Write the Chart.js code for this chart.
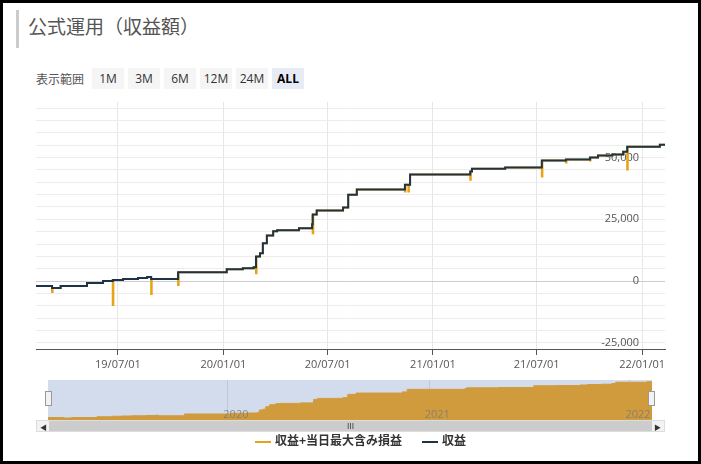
<!DOCTYPE html>
<html><head><meta charset="utf-8">
<script src="https://cdn.jsdelivr.net/npm/chart.js@4/dist/chart.umd.min.js"></script>
<style>
body{margin:0;width:701px;height:464px;overflow:hidden;background:#fff;font-family:"Noto Sans CJK JP","Noto Sans",sans-serif}
#frame{position:absolute;left:0;top:0;width:695px;height:458px;border:3px solid #000;}
#bar{position:absolute;left:16px;top:10px;width:3px;height:38px;background:#ccc}
#title{position:absolute;left:28px;top:12px;font-size:19px;color:#555}
#range{position:absolute;left:36px;top:68px;font-size:12px;color:#555;display:flex;align-items:center}
#range span.b{background:#f5f5f5;margin-left:4px;width:32px;height:21px;line-height:21px;text-align:center;display:inline-block;color:#333;font-family:"Open Sans",sans-serif}
#range span.sel{background:#e6ebf5;font-weight:bold;color:#000}
.box{position:absolute}
#scroll{position:absolute;left:36px;top:420px;width:629px;height:12px;background:#f2f2f2;border:1px solid #ddd;box-sizing:border-box}
#thumb{position:absolute;left:12px;right:12px;top:0;bottom:0;background:#ccc;font-size:8px;text-align:center;line-height:10px;color:#333}
.arr{position:absolute;top:1px;font-size:7px;color:#333}
.hdl{position:absolute;top:391px;width:7px;height:15px;background:#f2f2f2;border:1px solid #999;box-sizing:border-box}
#legend{position:absolute;left:0;width:701px;top:431px;text-align:center;font-size:12px;color:#333;font-weight:bold}
#legend i{display:inline-block;width:16px;height:2px;vertical-align:middle;margin:0 4px 0 20px}
</style></head>
<body>
<div id="frame"></div>
<div id="bar"></div>
<div id="title">公式運用（収益額）</div>
<div id="range">表示範囲<span class="b" style="margin-left:8px">1M</span><span class="b">3M</span><span class="b">6M</span><span class="b">12M</span><span class="b">24M</span><span class="b sel">ALL</span></div>
<div class="box" style="left:30px;top:96px;width:660px;height:280px"><canvas id="main"></canvas></div>
<div class="box" style="left:48px;top:380px;width:604px;height:40px"><canvas id="nav"></canvas></div>
<div class="hdl" style="left:45px"></div><div class="hdl" style="left:648px"></div>
<div id="scroll"><span class="arr" style="left:3px">◀</span><div id="thumb">III</div><span class="arr" style="right:3px">▶</span></div>
<div id="legend"><i style="background:#e8a317"></i>収益+当日最大含み損益<i style="background:#1c3348"></i>収益</div>
<script>
// 収益 (step line)
var dates = ['2019-02-08','2019-03-08','2019-03-23','2019-05-08','2019-06-05','2019-06-22','2019-07-10','2019-08-05','2019-08-21','2019-08-28','2019-10-14','2020-01-07','2020-02-04','2020-02-23','2020-02-27','2020-03-05','2020-03-10','2020-03-17','2020-03-28','2020-04-04','2020-05-12','2020-06-04','2020-06-05','2020-06-12','2020-07-28','2020-08-06','2020-08-21','2020-11-13','2020-11-22','2021-03-07','2021-03-10','2021-05-07','2021-07-10','2021-08-21','2021-10-02','2021-10-16','2021-11-10','2021-11-29','2021-12-06','2022-02-01','2022-02-10'];
var profit = [-2000,-2800,-2000,-800,0,400,800,1200,1600,800,3600,4800,5200,5600,10000,11300,15300,18500,20200,20600,21400,23000,27000,28600,29800,35000,37100,39000,43100,44400,45500,46000,48800,49200,50000,50800,51200,52400,54400,55200,55200];
// 収益+当日最大含み損益: daily dips
var dipDates = ['2019-03-08','2019-06-22','2019-08-28','2019-10-14','2020-02-27','2020-06-05','2020-11-13','2020-11-19','2021-03-07','2021-07-10','2021-08-21','2021-10-02','2021-12-06'];
var dipValues = [-4400,-9700,-5200,-1600,3200,19400,36300,36300,41000,42300,48000,48800,45200];
var xTicks = ['2019-07-01','2020-01-01','2020-07-01','2021-01-01','2021-07-01','2022-01-01'];
var xLabels = ['19/07/01','20/01/01','20/07/01','21/01/01','21/07/01','22/01/01'];
var navTicks = ['2020-01-01','2021-01-01','2022-01-01'];
var navLabels = ['2020','2021','2022'];

var DAY = 86400000;
function t(d) { return Date.parse(d + 'T00:00:00Z'); }
var mainPts = dates.map(function (d, i) { return {x: t(d), y: profit[i]}; });
// yellow series: profit with a one-day dip on the dip dates
var yPts = mainPts.slice();
dipDates.forEach(function (d, i) {
    var x = t(d), base = profit[0];
    for (var k = 0; k < dates.length; k++) { if (t(dates[k]) <= x) base = profit[k]; }
    yPts.push({x: x + 1, y: dipValues[i]});
    yPts.push({x: x + DAY, y: base});
});
yPts.sort(function (a, b) { return a.x - b.x; });
var xmin = t('2019-02-08'), xmax = t('2022-02-10');

new Chart(document.getElementById('main'), {
    type: 'line',
    data: { datasets: [
        { data: mainPts, stepped: true, borderColor: '#1c3348', borderWidth: 2, pointRadius: 0, order: 0 },
        { data: yPts, stepped: true, borderColor: '#e8a317', borderWidth: 2, pointRadius: 0, order: 1 }
    ]},
    options: {
        animation: false, responsive: true, maintainAspectRatio: false,
        layout: { padding: { left: 6, top: 6, right: 7, bottom: 0 } },
        plugins: { legend: { display: false }, tooltip: { enabled: false } },
        scales: {
            x: {
                type: 'linear', min: xmin, max: xmax,
                afterBuildTicks: function (ax) { ax.ticks = xTicks.map(function (d) { return {value: t(d)}; }); },
                afterFit: function (ax) { ax.height = 27; },
                ticks: { autoSkip: false, maxRotation: 0, color: '#555', font: { size: 11, family: 'Open Sans' },
                    callback: function (v, i) { return xLabels[i]; } },
                grid: { color: '#e6e6e6', tickColor: '#555', tickLength: 6 },
                border: { color: '#555' }
            },
            y: {
                position: 'right', min: -27500, max: 72500,
                afterBuildTicks: function (ax) { var a = []; for (var v = -25000; v <= 70000; v += 5000) a.push({value: v}); ax.ticks = a; },
                afterFit: function (ax) { ax.width = 18; },
                ticks: { autoSkip: false, color: '#555', mirror: true, padding: -26, font: { size: 11, family: 'Open Sans' },
                    callback: function (v) { return v % 25000 === 0 ? v.toLocaleString('en-US') : ''; } },
                grid: { color: function (c) { return c.tick.value === 0 ? '#ccc' : '#ececec'; }, drawTicks: false },
                border: { display: false }
            }
        }
    }
});

new Chart(document.getElementById('nav'), {
    type: 'line',
    data: { datasets: [{ data: mainPts, stepped: true, fill: 'start', backgroundColor: '#d09b3d', borderColor: '#d09b3d', borderWidth: 1, pointRadius: 0 }] },
    options: {
        animation: false, responsive: true, maintainAspectRatio: false,
        plugins: { legend: { display: false }, tooltip: { enabled: false } },
        scales: {
            x: { type: 'linear', min: xmin, max: xmax, display: true,
                afterBuildTicks: function (ax) { ax.ticks = navTicks.map(function (d) { return {value: t(d)}; }); },
                afterFit: function (ax) { ax.height = 0; },
                ticks: { display: false }, grid: { color: '#bfc8d8', drawTicks: false }, border: { display: false } },
            y: { display: false, min: -6000, max: 58000 }
        }
    },
    plugins: [{
        id: 'bg',
        beforeDraw: function (c) { var a = c.chartArea; c.ctx.fillStyle = '#d3dcec'; c.ctx.fillRect(a.left, a.top, a.width, a.height); },
        afterDraw: function (c) {
            var ctx = c.ctx; ctx.fillStyle = 'rgba(120,120,120,0.8)'; ctx.font = '11px "Open Sans"'; ctx.textAlign = 'center';
            navTicks.forEach(function (d, i) { ctx.fillText(navLabels[i], c.scales.x.getPixelForValue(t(d)) + 8, c.chartArea.bottom - 2); });
        }
    }]
});
</script>
</body></html>
